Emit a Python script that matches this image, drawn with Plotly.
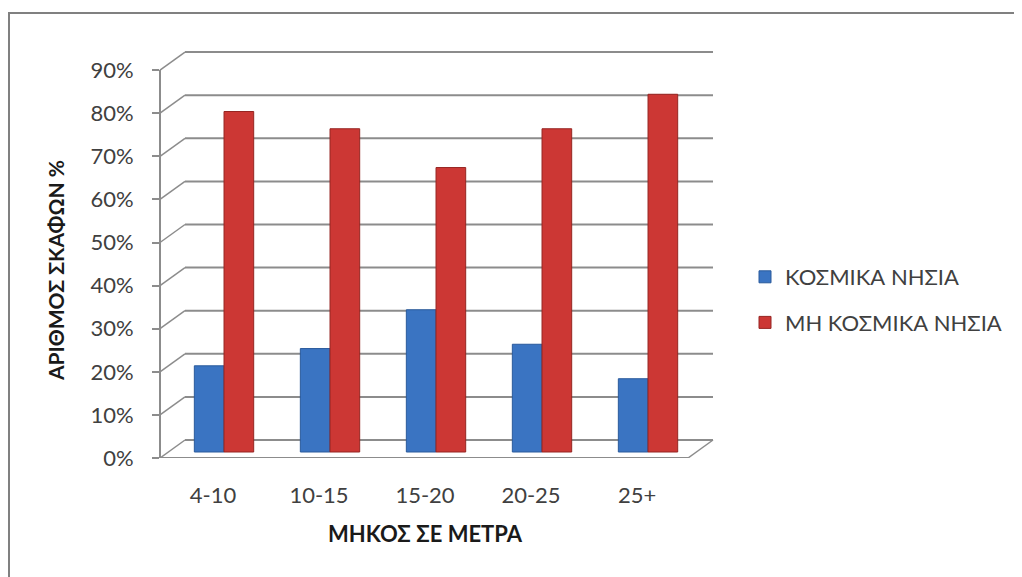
import plotly.graph_objects as go

categories = ["4-10", "10-15", "15-20", "20-25", "25+"]
kosmika = [20, 24, 33, 25, 17]
mi_kosmika = [79, 75, 66, 75, 83]
y_ticks = [0, 10, 20, 30, 40, 50, 60, 70, 80, 90]
y_labels = ["0%", "10%", "20%", "30%", "40%", "50%", "60%", "70%", "80%", "90%"]

FONT = "Lato, Open Sans, sans-serif"
GRID = "#8c8c8c"

# the page body adds an 8px margin, so targets (screen px) are shifted back
OFF = 8
left, right, top, bottom = 160 - OFF, 713 - OFF, 50 - OFF, 458 - OFF
width = right - left
height = bottom - top
px_per_unit = 4.31
back_dx = 25 / width          # depth offset of the back wall (paper)
back_dy = 18 / px_per_unit     # depth offset of the back wall (data units)
bar_base = 6 / px_per_unit     # bars stand mid-depth on the floor


def px_x(p):
    return (p - OFF - left) / width


def px_y(p):
    return (bottom - (p - OFF)) / height


fig = go.Figure()
fig.add_trace(go.Bar(
    x=categories, y=kosmika, base=bar_base, name="ΚΟΣΜΙΚΑ ΝΗΣΙΑ",
    marker=dict(color="#3a74c2", line=dict(color="#2a5a9c", width=1)),
    legendgroup="a",
))
fig.add_trace(go.Bar(
    x=categories, y=mi_kosmika, base=bar_base, name="ΜΗ ΚΟΣΜΙΚΑ ΝΗΣΙΑ",
    marker=dict(color="#cc3734", line=dict(color="#962522", width=1)),
    legendgroup="b",
))

shapes = []
# back wall gridlines plus the diagonals joining them to the front axis
for v in y_ticks:
    shapes.append(dict(type="line", xref="paper", yref="y",
                       x0=back_dx, x1=1, y0=v + back_dy, y1=v + back_dy,
                       line=dict(color=GRID, width=2), layer="below"))
    shapes.append(dict(type="line", xref="paper", yref="y",
                       x0=0, x1=back_dx, y0=v, y1=v + back_dy,
                       line=dict(color=GRID, width=1.5), layer="below"))
# front axis and floor edges
shapes.append(dict(type="line", xref="paper", yref="y", x0=0, x1=0,
                   y0=0, y1=y_ticks[-1], line=dict(color=GRID, width=2)))
shapes.append(dict(type="line", xref="paper", yref="y", x0=0, x1=1 - back_dx,
                   y0=0, y1=0, line=dict(color=GRID, width=2)))
shapes.append(dict(type="line", xref="paper", yref="y", x0=1 - back_dx, x1=1,
                   y0=0, y1=back_dy, line=dict(color=GRID, width=1.5)))
# outer border
shapes.append(dict(type="rect", xref="paper", yref="paper",
                   x0=px_x(9), x1=px_x(1040), y0=px_y(590), y1=px_y(13),
                   line=dict(color="#808080", width=2), layer="below"))

fig.update_layout(
    width=1022, height=577,
    margin=dict(l=left, r=1022 - right, t=top, b=577 - bottom),
    paper_bgcolor="white", plot_bgcolor="white",
    font=dict(family=FONT, color="#404040"),
    barmode="group", bargap=0.44, bargroupgap=0,
    showlegend=True,
    legend=dict(x=px_x(745), y=px_y(300), xanchor="left", yanchor="middle",
                font=dict(size=22, color="#404040", family=FONT),
                traceorder="grouped", tracegroupgap=14),
    shapes=shapes,
    annotations=[
        dict(text="<b>ΜΗΚΟΣ ΣΕ ΜΕΤΡΑ</b>", xref="paper", yref="paper",
             x=px_x(425), y=px_y(533), xanchor="center", yanchor="middle",
             showarrow=False, font=dict(size=22, color="#1a1a1a", family=FONT)),
        dict(text="<b>ΑΡΙΘΜΟΣ ΣΚΑΦΩΝ %</b>", xref="paper", yref="paper",
             x=px_x(55), y=px_y(271), xanchor="center", yanchor="middle",
             showarrow=False, textangle=-90,
             font=dict(size=21, color="#1a1a1a", family=FONT)),
    ],
)
fig.update_xaxes(
    type="category", range=[-0.604, 4.613], showgrid=False, showline=False,
    zeroline=False, ticks="", ticklabelshift=-11, ticklabelstandoff=22,
    tickfont=dict(size=22, color="#404040"),
)
fig.update_yaxes(
    range=[0, height / px_per_unit], tickmode="array",
    tickvals=y_ticks, ticktext=y_labels,
    showgrid=False, showline=False, zeroline=False,
    ticks="outside", ticklen=7, tickcolor=GRID, tickwidth=2,
    ticklabelstandoff=14, tickfont=dict(size=22, color="#404040"),
)

fig.write_html("out.html")
